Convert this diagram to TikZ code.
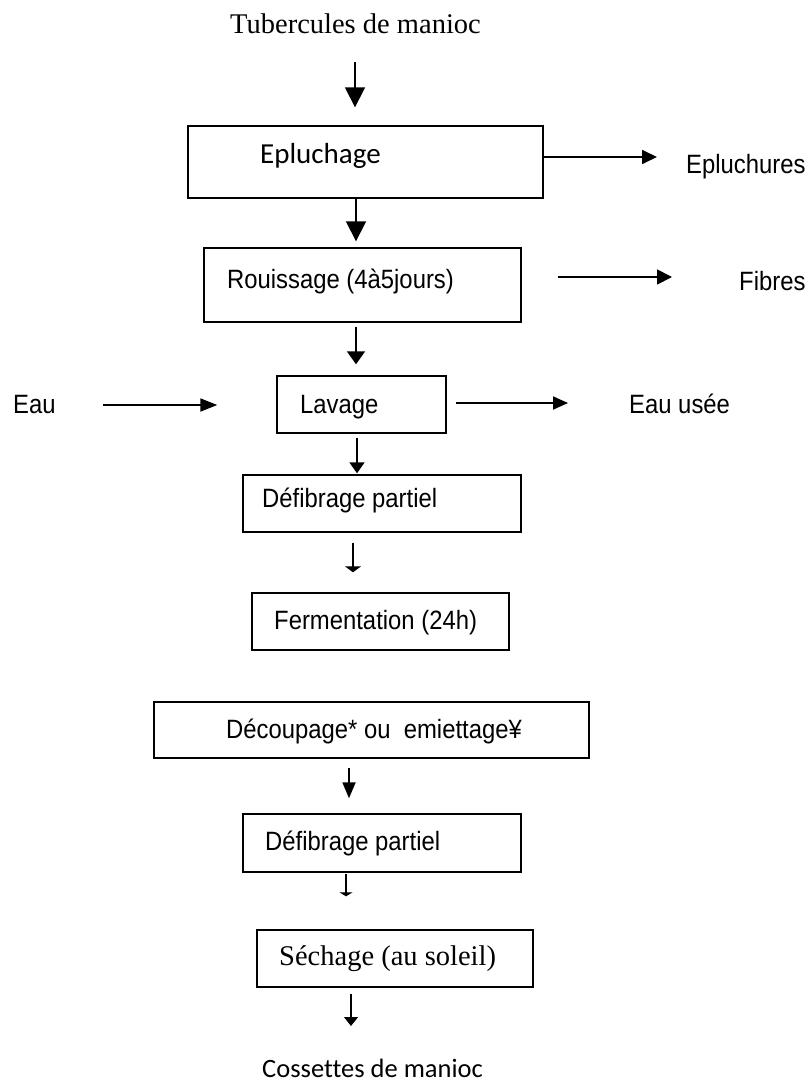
\documentclass[tikz,border=0pt]{standalone}
\usepackage{fontspec}
\setmainfont{Liberation Serif}
\newfontfamily\arialf{Liberation Sans}[FakeStretch=0.9]
\newfontfamily\calibf{Carlito}[Ligatures=NoCommon]
\usetikzlibrary{arrows.meta}
\begin{document}
\begin{tikzpicture}[x=1pt,y=-1pt,
  box/.style={draw, line width=1.4pt, inner sep=0pt},
  lbl/.style={anchor=base west, inner sep=0pt},
  tms/.style={font=\fontsize{28.5}{30}\selectfont},
  ari/.style={font=\arialf\fontsize{26.5}{28}\selectfont},
  cal/.style={font=\calibf\fontsize{29}{30}\selectfont},
  arr/.style={line width=1.8pt},
  thin arr/.style={line width=1.2pt}]
\useasboundingbox (0,0) rectangle (811,1083);

% boxes
\node[box, minimum width=355pt, minimum height=72pt] (eplu) at (365.5,162) {};
\node[box, minimum width=317pt, minimum height=74pt] (rouis) at (362.5,285) {};
\node[box, minimum width=169pt, minimum height=57pt] (lav) at (361.5,404.5) {};
\node[box, minimum width=278pt, minimum height=57pt] (defa) at (382,503.5) {};
\node[box, minimum width=257pt, minimum height=57pt] (ferm) at (380.5,621.5) {};
\node[box, minimum width=435pt, minimum height=56pt] (decoup) at (371.5,730) {};
\node[box, minimum width=278pt, minimum height=58pt] (defb) at (382,843) {};
\node[box, minimum width=276pt, minimum height=57pt] (sech) at (395,958.5) {};

% texts
\node[lbl, tms] (title) at (230,34) {Tubercules de manioc};
\node[lbl, cal] (eplutxt) at (260,164) {Epluchage};
\node[lbl, ari] (epluchures) at (686,174) {Epluchures};
\node[lbl, ari] (routxt) at (227,288) {Rouissage (4à5jours)};
\node[lbl, ari] (fibres) at (739,290) {Fibres};
\node[lbl, ari] (eau) at (13,413) {Eau};
\node[lbl, ari] (lavtxt) at (300,413) {Lavage};
\node[lbl, ari] (eauusee) at (629,413) {Eau usée};
\node[lbl, ari] (defatxt) at (262,507) {Défibrage partiel};
\node[lbl, ari] (fermtxt) at (274,629) {Fermentation (24h)};
\node[lbl, ari] (decouptxt) at (226,738) {Découpage* ou\ \ emiettage¥};
\node[lbl, ari] (defbtxt) at (265,850) {Défibrage partiel};
\node[lbl, tms] (sechtxt) at (279,965) {Séchage (au soleil)};
\node[lbl, font=\calibf\fontsize{26.5}{28}\selectfont] (coss) at (262,1077) {Cossettes de manioc};

% connectors
\draw[arr, -{Triangle[width=20pt,length=20pt]}, shorten <=28pt, shorten >=18pt]
  (355,0 |- title.base) -- (355,0 |- eplu.north);
\draw[arr, -{Triangle[width=14pt,length=15pt]}, shorten >=29pt]
  (eplu.east |- 0,157) -- (epluchures.base west |- 0,157);
\draw[arr, -{Triangle[width=20pt,length=20pt]}, shorten >=6pt]
  (356,0 |- eplu.south) -- (356,0 |- rouis.north);
\draw[arr, -{Triangle[width=15pt,length=15pt]}, shorten <=36pt, shorten >=67pt]
  (rouis.east |- 0,277) -- (fibres.base west |- 0,277);
\draw[arr, -{Triangle[width=18pt,length=13pt]}, shorten <=4pt, shorten >=11pt]
  (356,0 |- rouis.south) -- (356,0 |- lav.north);
\draw[arr, -{Triangle[width=13pt,length=17pt]}, shorten <=90pt, shorten >=59pt]
  (eau.base west |- 0,405) -- (lav.west |- 0,405);
\draw[arr, -{Triangle[width=13pt,length=15pt]}, shorten <=9pt, shorten >=61pt]
  (lav.east |- 0,403) -- (eauusee.base west |- 0,403);
\draw[arr, -{Triangle[width=15pt,length=11pt]}, shorten <=4pt, shorten >=1pt]
  (357,0 |- lav.south) -- (357,0 |- defa.north);
\draw[thin arr, -{Triangle[width=16pt,length=6pt]}, shorten <=10pt, shorten >=20pt]
  (353,0 |- defa.south) -- (353,0 |- ferm.north);
\draw[arr, -{Triangle[width=13pt,length=16pt]}, shorten <=9pt, shorten >=15pt]
  (349,0 |- decoup.south) -- (349,0 |- defb.north);
\draw[thin arr, -{Triangle[width=13pt,length=4pt]}, shorten <=1pt, shorten >=33pt]
  (346,0 |- defb.south) -- (346,0 |- sech.north);
\draw[thin arr, -{Triangle[width=14pt,length=9pt]}, shorten <=6pt, shorten >=51pt]
  (351,0 |- sech.south) -- (351,0 |- coss.base);
\end{tikzpicture}
\end{document}
